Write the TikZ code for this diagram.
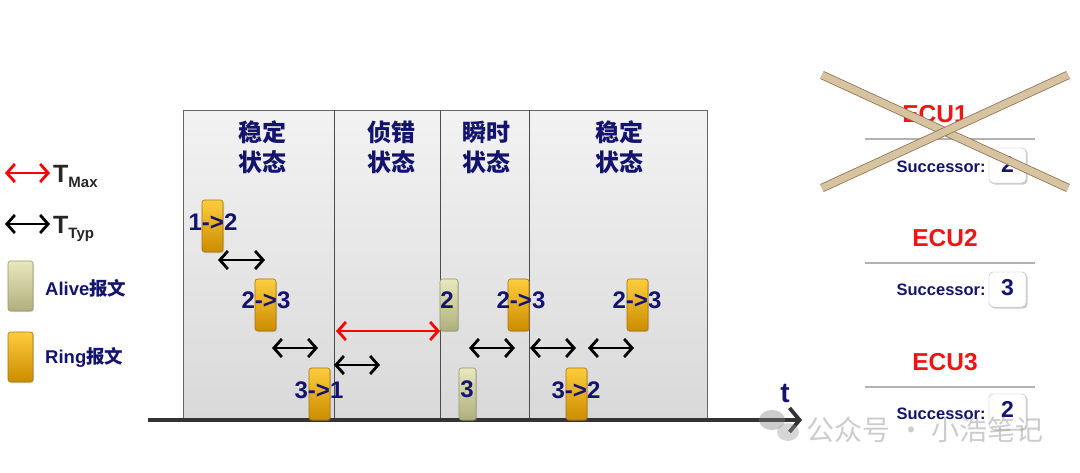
\documentclass[tikz,border=0pt]{standalone}
\usepackage{fontspec}
\setmainfont{Liberation Sans}
\newfontfamily\cjk{Noto Sans CJK SC}
\usetikzlibrary{arrows.meta,shadows}
\definecolor{navy}{RGB}{20,20,110}
\definecolor{ecured}{RGB}{240,20,20}
\definecolor{ringtop}{RGB}{252,205,60}
\definecolor{ringbot}{RGB}{205,140,0}
\definecolor{ringedge}{RGB}{170,115,10}
\definecolor{alivetop}{RGB}{232,232,190}
\definecolor{alivebot}{RGB}{175,175,125}
\definecolor{aliveedge}{RGB}{150,150,105}
\definecolor{tanx}{RGB}{215,195,160}
\definecolor{tanedge}{RGB}{140,115,85}
\tikzset{
  ringbox/.style={rounded corners=2.5pt, minimum width=21pt, minimum height=52pt, inner sep=0pt,
    top color=ringtop, bottom color=ringbot, draw=ringedge, line width=0.6pt,
    drop shadow={shadow xshift=1pt, shadow yshift=-1pt, opacity=0.3}},
  alivebox/.style={rounded corners=2.5pt, minimum width=18pt, minimum height=52pt, inner sep=0pt,
    top color=alivetop, bottom color=alivebot, draw=aliveedge, line width=0.6pt,
    drop shadow={shadow xshift=1pt, shadow yshift=-1pt, opacity=0.3}},
  msglbl/.style={text=navy, inner sep=0pt, font=\bfseries\fontsize{24}{24}\selectfont},
  hdr/.style={text=navy, align=center, inner sep=0pt, font=\cjk\bfseries\fontsize{24}{30}\selectfont},
  typ/.style={{Straight Barb[length=8pt,width=18pt]}-{Straight Barb[length=8pt,width=18pt]}, line width=2.8pt, black},
  maxarr/.style={{Straight Barb[length=8pt,width=18pt]}-{Straight Barb[length=8pt,width=18pt]}, line width=2.8pt, red},
  ecu/.style={text=ecured, inner sep=0pt, font=\bfseries\fontsize{24.5}{24.5}\selectfont},
  succ/.style={text=navy, inner sep=0pt, anchor=east, font=\bfseries\fontsize{16.5}{16.5}\selectfont},
  succbox/.style={draw=gray!60, fill=white, rounded corners=4pt, minimum width=37pt, minimum height=35pt,
    inner sep=0pt, text=navy, font=\bfseries\fontsize{23}{23}\selectfont,
    drop shadow={shadow xshift=1.5pt, shadow yshift=-1.5pt, opacity=0.4}},
  sepline/.style={draw=gray!60, line width=2pt},
  leglbl/.style={text=navy, anchor=west, inner sep=0pt, font=\bfseries\fontsize{18.5}{18.5}\selectfont},
}
\begin{document}
\begin{tikzpicture}[x=1pt,y=-1pt]
\path[use as bounding box] (0,0) rectangle (1080,472);
% panel
\path[top color=gray!10, bottom color=gray!30, draw=gray!80!black, line width=0.8pt]
  (183,110) rectangle (707,420);
\foreach \xx in {334,440,529}
  \draw[gray!60!black, line width=0.9pt] (\xx,110) -- (\xx,420);
% headers
\node[hdr] (h1) at (262,147) {稳定\\状态};
\node[hdr] (h2) at (391,147) {侦错\\状态};
\node[hdr] (h3) at (486,147) {瞬时\\状态};
\node[hdr] (h4) at (619,147) {稳定\\状态};
% timeline
\coordinate (t0) at (148,420);
\coordinate (t1) at (802,420);
\draw[line width=3.8pt, black!80, -{Straight Barb[length=10pt,width=24pt,line width=3.8pt]}] (t0) -- (t1);
\node[text=navy, font=\bfseries\fontsize{28}{28}\selectfont, inner sep=0pt] (tlabel) at (785,393) {t};
% messages
\node[ringbox] (m1) at (212.5,226) {};
\node[msglbl] (m1l) at (213,222) {1->2};
\node[ringbox] (m2) at (265.5,305) {};
\node[msglbl] (m2l) at (266,300) {2->3};
\node[ringbox] (m3) at (319.5,394) {};
\node[msglbl] (m3l) at (319,390) {3->1};
\node[alivebox] (a2) at (449,305) {};
\node[msglbl] (a2l) at (447,300) {2};
\node[ringbox] (m4) at (518.5,305) {};
\node[msglbl] (m4l) at (521,300) {2->3};
\node[alivebox, minimum width=17pt] (a3) at (467.5,394) {};
\node[msglbl] (a3l) at (467,389) {3};
\node[ringbox] (m5) at (576.5,394) {};
\node[msglbl] (m5l) at (576,390) {3->2};
\node[ringbox] (m6) at (637.5,305) {};
\node[msglbl] (m6l) at (637,300) {2->3};
% timing arrows
\coordinate (p1a) at (218,260); \coordinate (p1b) at (265,260);
\coordinate (p2a) at (272,348); \coordinate (p2b) at (318,348);
\coordinate (p3a) at (334,365); \coordinate (p3b) at (380,365);
\coordinate (p4a) at (469,348); \coordinate (p4b) at (515,348);
\coordinate (p5a) at (530,348); \coordinate (p5b) at (576,348);
\coordinate (p6a) at (588,348); \coordinate (p6b) at (634,348);
\draw[typ] (p1a) -- (p1b);
\draw[typ] (p2a) -- (p2b);
\draw[typ] (p3a) -- (p3b);
\draw[typ] (p4a) -- (p4b);
\draw[typ] (p5a) -- (p5b);
\draw[typ] (p6a) -- (p6b);
\coordinate (r1) at (336,331); \coordinate (r2) at (440,331);
\draw[maxarr] (r1) -- (r2);
% legend
\coordinate (l1a) at (5,173); \coordinate (l1b) at (50,173);
\draw[maxarr] (l1a) -- (l1b);
\node[anchor=base west, inner sep=0pt, text=black!85, font=\bfseries\fontsize{25}{25}\selectfont] (lmax) at (53,182) {T\raisebox{-5pt}{\fontsize{15}{15}\selectfont Max}};
\coordinate (l2a) at (5,224); \coordinate (l2b) at (50,224);
\draw[typ] (l2a) -- (l2b);
\node[anchor=base west, inner sep=0pt, text=black!85, font=\bfseries\fontsize{25}{25}\selectfont] (ltyp) at (53,233) {T\raisebox{-5pt}{\fontsize{15}{15}\selectfont Typ}};
\node[alivebox, minimum width=25pt, minimum height=50pt] (lalive) at (20.5,286) {};
\node[leglbl] (laliveT) at (45,288) {Alive{\cjk\bfseries 报文}};
\node[ringbox, minimum width=25pt, minimum height=50pt] (lring) at (20.5,357) {};
\node[leglbl] (lringT) at (45,357) {Ring{\cjk\bfseries 报文}};
% ECUs
\node[ecu] (e1) at (935,114) {ECU1};
\draw[sepline] (865,139) -- (1035,139);
\node[succbox] (b1) at (1007.5,165.5) {\raisebox{3pt}{2}};
\node[succ] (s1) at ([xshift=-3pt,yshift=-1pt]b1.west) {Successor:};
\node[ecu] (e2) at (945,238) {ECU2};
\draw[sepline] (865,263) -- (1035,263);
\node[succbox] (b2) at (1007.5,289.5) {\raisebox{4pt}{3}};
\node[succ] (s2) at ([xshift=-3pt,yshift=0pt]b2.west) {Successor:};
\node[ecu] (e3) at (945,362) {ECU3};
\draw[sepline] (865,387) -- (1035,387);
\node[succbox] (b3) at (1007.5,411.5) {\raisebox{4pt}{2}};
\node[succ] (s3) at ([xshift=-3pt,yshift=-2pt]b3.west) {Successor:};
% cross over ECU1
\coordinate (c1) at (822,75); \coordinate (c2) at (1068,188);
\coordinate (c3) at (1068,75); \coordinate (c4) at (822,188);
\draw[draw=tanedge, double=tanx, double distance=7pt, line width=0.8pt] (c1) -- (c2);
\draw[draw=tanedge, double=tanx, double distance=7pt, line width=0.8pt] (c3) -- (c4);
% watermark
\begin{scope}[opacity=0.4]
\fill[gray] (772,420) ellipse (13pt and 10pt);
\fill[gray!80] (788,432) ellipse (11pt and 9pt);
\node[text=gray, inner sep=0pt, font=\cjk\fontsize{28}{28}\selectfont] (wm) at (925,430) {公众号 · 小浩笔记};
\end{scope}
\end{tikzpicture}
\end{document}
